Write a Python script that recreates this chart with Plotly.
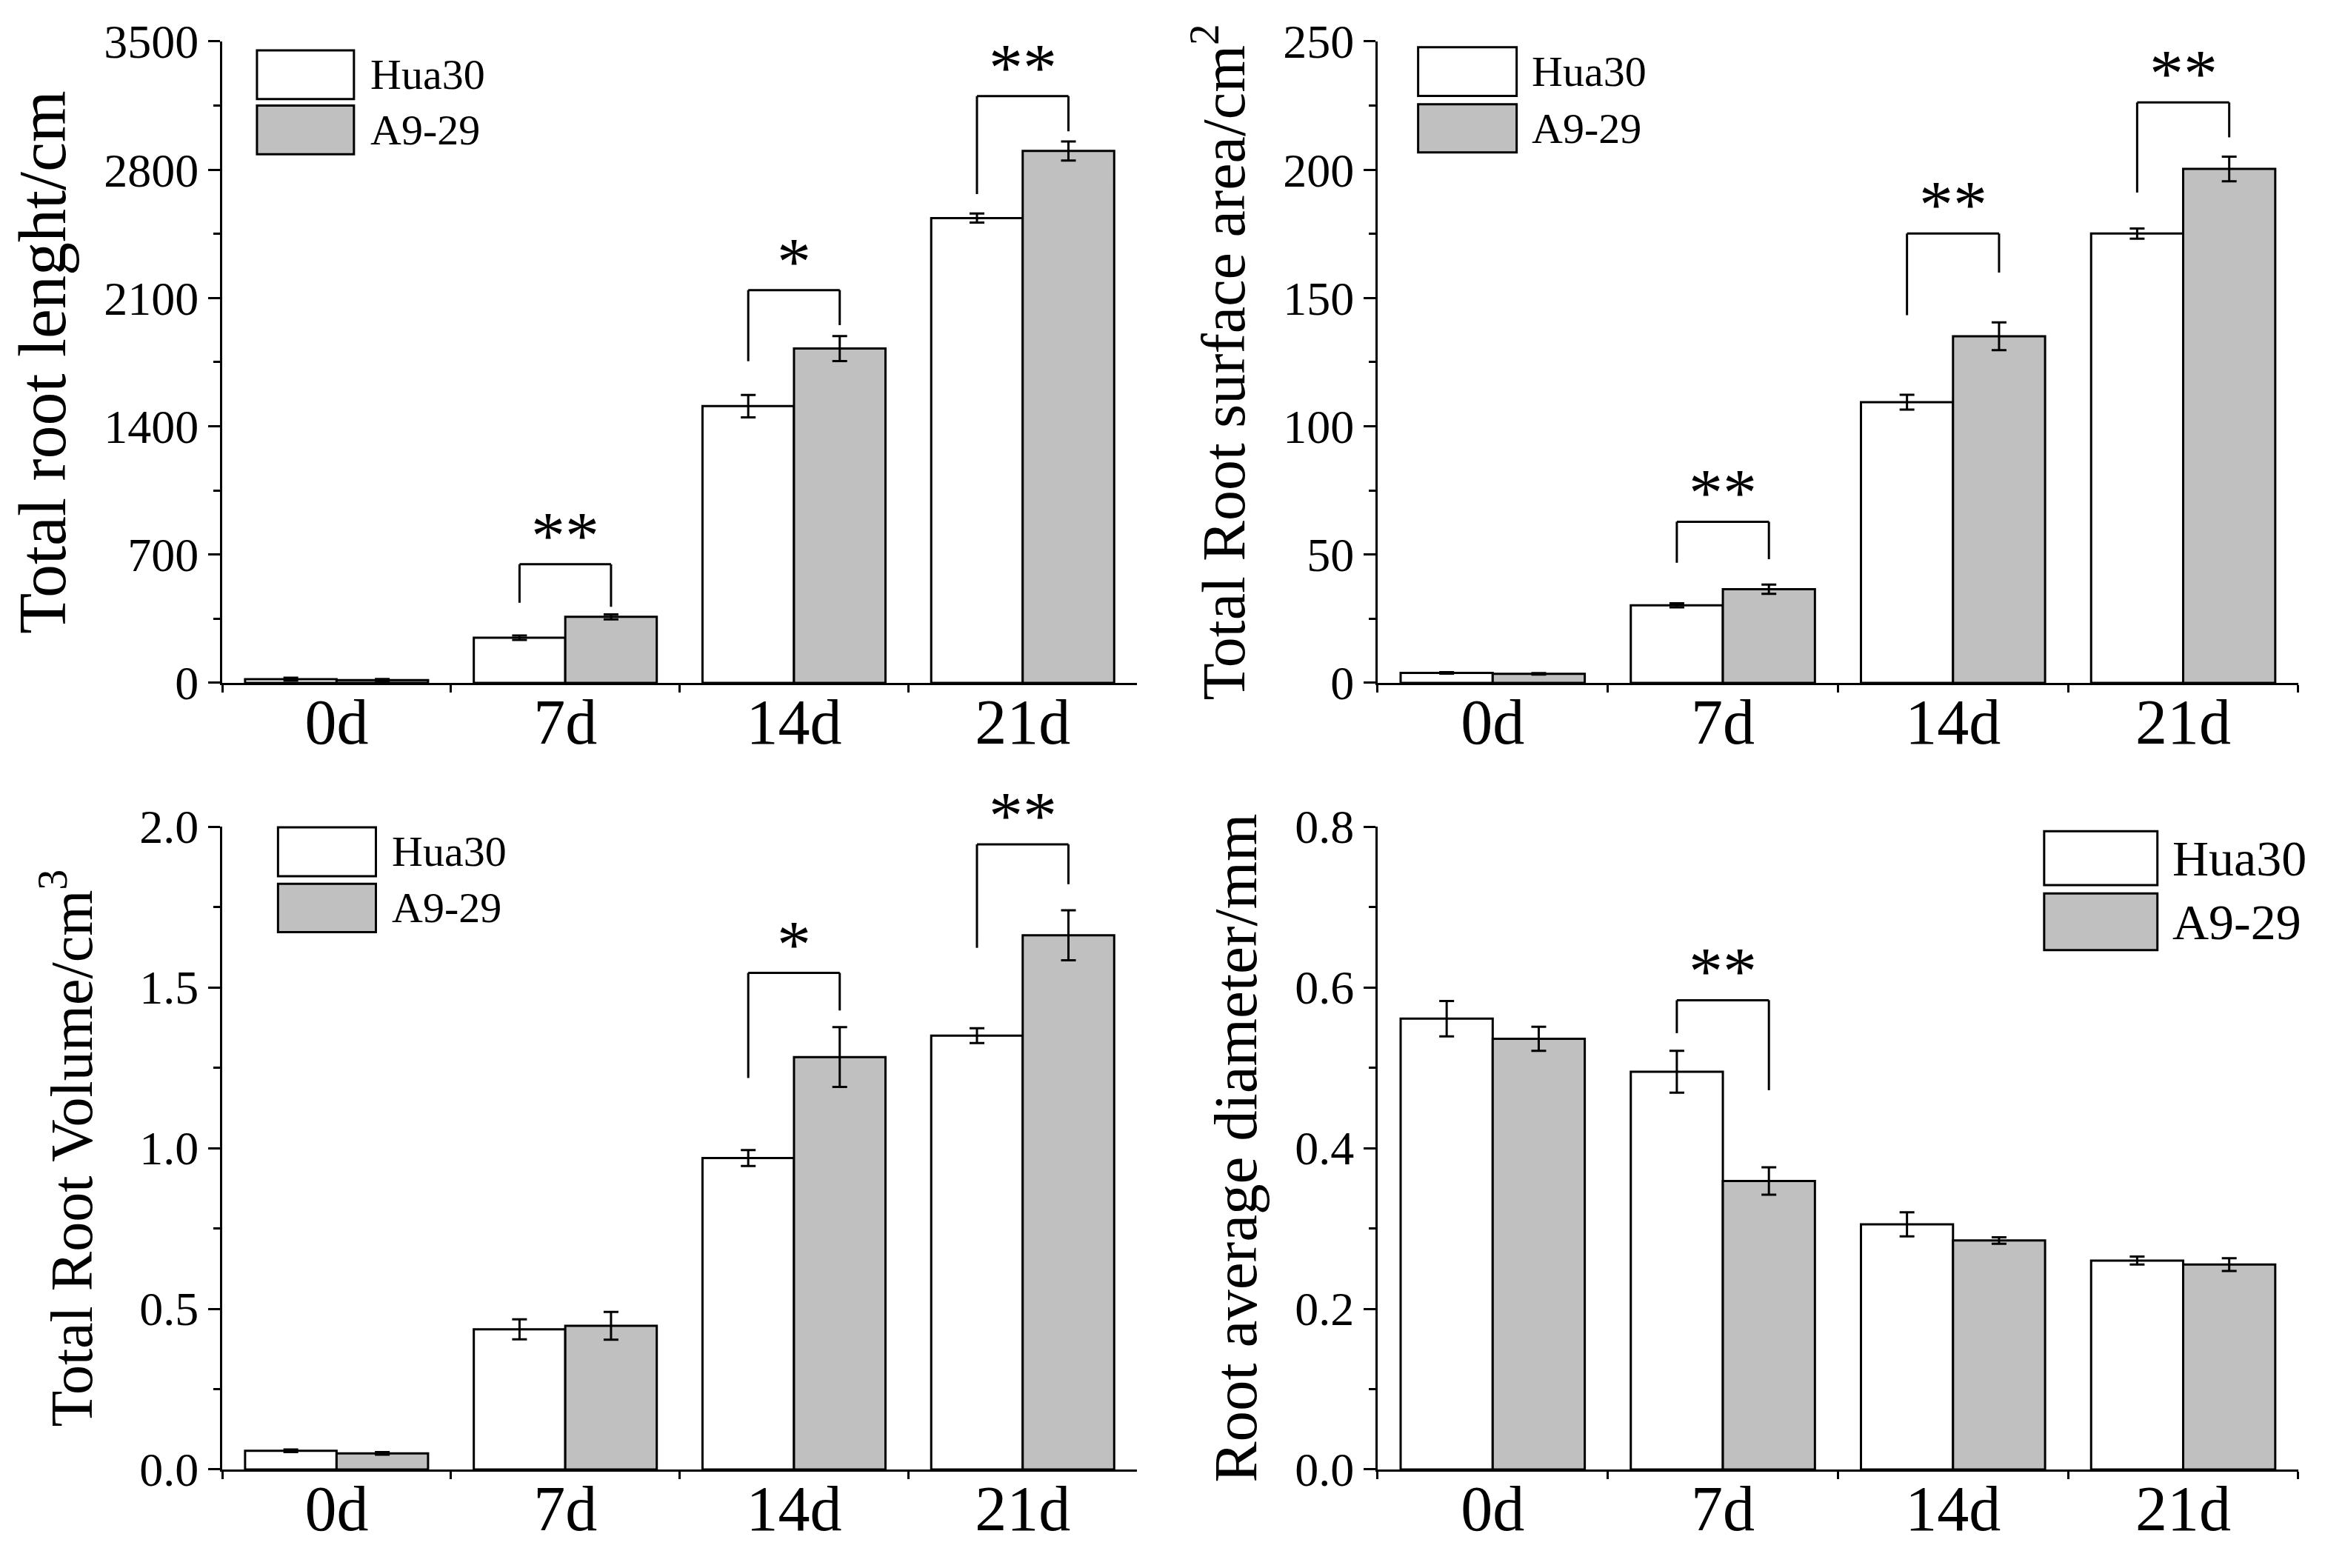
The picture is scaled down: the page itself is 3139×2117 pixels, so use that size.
import plotly.graph_objects as go
import plotly.subplots as sp

FONT = "Liberation Serif, Times New Roman, serif"

### Data ###
categories = ["0d", "7d", "14d", "21d"]

length_hua30 = [20, 246, 1510, 2536]
length_hua30_err = [8, 12, 61, 25]
length_a929 = [15, 360, 1824, 2902]
length_a929_err = [6, 14, 68, 52]

area_hua30 = [3.9, 30.2, 109.4, 175.1]
area_hua30_err = [0.3, 0.8, 2.9, 2.0]
area_a929 = [3.5, 36.5, 135.1, 200.3]
area_a929_err = [0.3, 1.8, 5.4, 4.8]

vol_hua30 = [0.058, 0.436, 0.969, 1.350]
vol_hua30_err = [0.004, 0.031, 0.025, 0.023]
vol_a929 = [0.050, 0.447, 1.283, 1.662]
vol_a929_err = [0.004, 0.043, 0.093, 0.078]

diam_hua30 = [0.561, 0.495, 0.305, 0.260]
diam_hua30_err = [0.022, 0.026, 0.015, 0.005]
diam_a929 = [0.536, 0.359, 0.285, 0.255]
diam_a929_err = [0.015, 0.017, 0.004, 0.008]

# significance brackets: (category index, label, bracket top, left leg bottom, right leg bottom)
length_sig = [(1, "**", 647, 437, 415), (2, "*", 2143, 1755, 1952), (3, "**", 3202, 2667, 3010)]
area_sig = [(1, "**", 62.8, 46.8, 48.2), (2, "**", 175.1, 143.3, 159.9), (3, "**", 226.2, 191.1, 212.6)]
vol_sig = [(2, "*", 1.545, 1.218, 1.428), (3, "**", 1.945, 1.623, 1.821)]
diam_sig = [(1, "**", 0.584, 0.543, 0.472)]

# page body keeps an 8px margin, so the figure is drawn 16px smaller than the window
W, H = 3123, 2101
XL = [0.0935, 0.4890]
XR = [0.5930, 0.9910]
YT = [0.5650, 0.9772]
YB = [0.0595, 0.4726]

panels = [
    dict(row=1, col=1, hua=length_hua30, hua_err=length_hua30_err, a9=length_a929, a9_err=length_a929_err,
         sig=length_sig, yrange=[0, 3500], dtick=700, fmt="d", title="Total root lenght/cm",
         tsize=90, standoff=22, xdom=XL, ydom=YT,
         leg=dict(x0=0.038, x1=0.144, y=[0.986, 0.910, 0.900, 0.824], tx=0.160, size=58)),
    dict(row=1, col=2, hua=area_hua30, hua_err=area_hua30_err, a9=area_a929, a9_err=area_a929_err,
         sig=area_sig, yrange=[0, 250], dtick=50, fmt="d", title="Total Root surface area/cm<sup>2</sup>",
         tsize=82, standoff=25, xdom=XR, ydom=YT,
         leg=dict(x0=0.044, x1=0.151, y=[0.991, 0.915, 0.902, 0.827], tx=0.166, size=58)),
    dict(row=2, col=1, hua=vol_hua30, hua_err=vol_hua30_err, a9=vol_a929, a9_err=vol_a929_err,
         sig=vol_sig, yrange=[0, 2.0], dtick=0.5, fmt=".1f", title="Total Root Volume/cm<sup>3</sup>",
         tsize=80, standoff=38, xdom=XL, ydom=YB,
         leg=dict(x0=0.061, x1=0.168, y=[0.999, 0.923, 0.911, 0.836], tx=0.184, size=58)),
    dict(row=2, col=2, hua=diam_hua30, hua_err=diam_hua30_err, a9=diam_a929, a9_err=diam_a929_err,
         sig=diam_sig, yrange=[0, 0.8], dtick=0.2, fmt=".1f", title="Root average diameter/mm",
         tsize=83, standoff=25, xdom=XR, ydom=YB,
         leg=dict(x0=0.724, x1=0.847, y=[0.993, 0.909, 0.896, 0.808], tx=0.862, size=68)),
]

### Begin Plotting ###
fig = sp.make_subplots(rows=2, cols=2)

for n, p in enumerate(panels):
    row, col = p["row"], p["col"]
    xref = "x" if n == 0 else f"x{n + 1}"
    yref = "y" if n == 0 else f"y{n + 1}"

    fig.add_trace(go.Bar(x=categories, y=p["hua"], name="Hua30",
                         marker=dict(color="white", line=dict(color="black", width=3)),
                         error_y=dict(type="data", array=p["hua_err"], color="black", thickness=3, width=10),
                         showlegend=False), row=row, col=col)
    fig.add_trace(go.Bar(x=categories, y=p["a9"], name="A9-29",
                         marker=dict(color="#c0c0c0", line=dict(color="black", width=3)),
                         error_y=dict(type="data", array=p["a9_err"], color="black", thickness=3, width=10),
                         showlegend=False), row=row, col=col)

    fig.update_xaxes(type="category", range=[-0.5, 3.5], domain=p["xdom"],
                     showline=True, linecolor="black", linewidth=3,
                     ticks="outside", tickson="boundaries", ticklen=10, tickwidth=3, tickcolor="black",
                     tickfont=dict(family=FONT, size=86, color="black"), ticklabelstandoff=-24,
                     showgrid=False, zeroline=False, row=row, col=col)
    fig.update_yaxes(range=p["yrange"], dtick=p["dtick"], tickformat=p["fmt"], domain=p["ydom"],
                     showline=True, linecolor="black", linewidth=3,
                     ticks="outside", ticklen=16, tickwidth=3, tickcolor="black",
                     minor=dict(ticks="outside", ticklen=9, tickwidth=3, tickcolor="black", dtick=p["dtick"] / 2),
                     tickfont=dict(family=FONT, size=64, color="black"),
                     title=dict(text=p["title"], font=dict(family=FONT, size=p["tsize"], color="black"),
                                standoff=p["standoff"]),
                     showgrid=False, zeroline=False, automargin=False, row=row, col=col)

    # significance brackets
    for (i, label, top, left, right) in p["sig"]:
        for (x0, y0, x1, y1) in [(i - 0.2, left, i - 0.2, top), (i - 0.2, top, i + 0.2, top), (i + 0.2, top, i + 0.2, right)]:
            fig.add_shape(type="line", xref=xref, yref=yref, x0=x0, y0=y0, x1=x1, y1=y1,
                          line=dict(color="black", width=3))
        fig.add_annotation(x=i, y=top, xref=xref, yref=yref, text=label, showarrow=False,
                           yanchor="bottom", yshift=-14, font=dict(family=FONT, size=92, color="black"))

    # legend boxes
    lg = p["leg"]
    for k, (name, fill) in enumerate([("Hua30", "white"), ("A9-29", "#c0c0c0")]):
        ytop, ybot = lg["y"][2 * k], lg["y"][2 * k + 1]
        fig.add_shape(type="rect", xref=f"{xref} domain", yref=f"{yref} domain",
                      x0=lg["x0"], x1=lg["x1"], y0=ybot, y1=ytop, fillcolor=fill,
                      line=dict(color="black", width=3))
        fig.add_annotation(x=lg["tx"], y=(ytop + ybot) / 2, xref=f"{xref} domain", yref=f"{yref} domain",
                           text=name, showarrow=False, xanchor="left", yanchor="middle",
                           font=dict(family=FONT, size=lg["size"], color="black"))

# Figure layout
fig.update_layout(width=W, height=H, margin=dict(l=0, r=0, t=0, b=0),
                  barmode="group", bargap=0.2, bargroupgap=0.0,
                  plot_bgcolor="white", paper_bgcolor="white",
                  font=dict(family=FONT, color="black"))

fig.write_html("out.html")
